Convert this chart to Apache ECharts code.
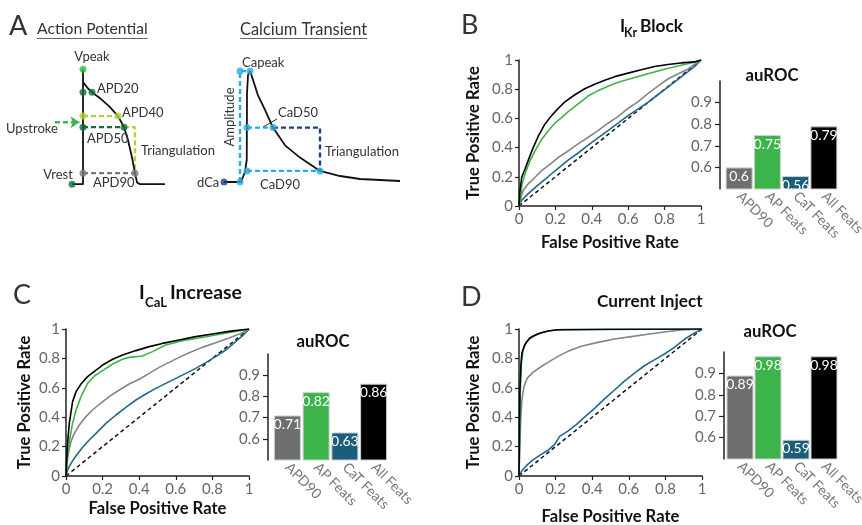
<!DOCTYPE html>
<html><head><meta charset="utf-8">
<script src="https://cdn.jsdelivr.net/npm/echarts@6/dist/echarts.min.js"></script>
<style>html,body{margin:0;padding:0;background:#fff}#c{width:862px;height:525px}</style>
</head><body><div id="c"></div>
<script>
// ---------- data ----------
const barCategories = ['APD90', 'AP Feats', 'CaT Feats', 'All Feats'];
const aurocIKr = [0.6, 0.75, 0.56, 0.79];
const aurocICaL = [0.71, 0.82, 0.63, 0.86];
const aurocInject = [0.89, 0.98, 0.59, 0.98];
const barTicks = [0.6, 0.7, 0.8, 0.9];
const diagonal = [[0, 0], [1, 1]];

// ROC curves [FPR, TPR]
const ikrAll = [[0,0],[0.005,0.1],[0.015,0.197],[0.033,0.253],[0.051,0.314],[0.078,0.40],[0.106,0.478],[0.142,0.56],[0.179,0.619],[0.215,0.668],[0.252,0.713],[0.307,0.762],[0.361,0.803],[0.416,0.834],[0.471,0.861],[0.526,0.886],[0.599,0.91],[0.672,0.933],[0.745,0.955],[0.818,0.969],[0.891,0.98],[0.964,0.987],[1,1]];
const ikrAp = [[0,0],[0.01,0.06],[0.015,0.141],[0.033,0.22],[0.06,0.309],[0.088,0.377],[0.124,0.455],[0.161,0.516],[0.197,0.567],[0.234,0.605],[0.27,0.646],[0.325,0.70],[0.38,0.753],[0.434,0.79],[0.489,0.82],[0.544,0.848],[0.617,0.874],[0.708,0.906],[0.80,0.937],[0.891,0.964],[0.964,0.984],[1,1]];
const ikrApd = [[0,0],[0.011,0.063],[0.024,0.108],[0.051,0.152],[0.088,0.197],[0.124,0.242],[0.161,0.276],[0.215,0.332],[0.27,0.377],[0.325,0.426],[0.38,0.471],[0.434,0.516],[0.489,0.567],[0.544,0.612],[0.599,0.668],[0.653,0.713],[0.708,0.769],[0.763,0.821],[0.818,0.87],[0.872,0.904],[0.927,0.937],[1,1]];
const ikrCat = [[0,0],[0.015,0.04],[0.051,0.085],[0.088,0.126],[0.124,0.164],[0.161,0.202],[0.215,0.258],[0.27,0.314],[0.325,0.363],[0.38,0.417],[0.434,0.466],[0.489,0.516],[0.544,0.567],[0.599,0.619],[0.653,0.664],[0.708,0.709],[0.763,0.762],[0.818,0.814],[0.872,0.865],[0.927,0.919],[0.972,0.964],[1,1]];

const calAll = [[0,0],[0.007,0.2],[0.018,0.358],[0.036,0.506],[0.055,0.574],[0.082,0.626],[0.118,0.676],[0.164,0.721],[0.2,0.755],[0.255,0.794],[0.309,0.823],[0.382,0.853],[0.455,0.88],[0.527,0.902],[0.618,0.925],[0.709,0.948],[0.80,0.966],[0.891,0.984],[1,1]];
const calAp = [[0,0],[0.007,0.13],[0.018,0.234],[0.036,0.358],[0.055,0.449],[0.082,0.54],[0.118,0.63],[0.155,0.68],[0.2,0.717],[0.255,0.762],[0.309,0.794],[0.345,0.807],[0.418,0.816],[0.473,0.846],[0.545,0.891],[0.636,0.921],[0.727,0.939],[0.818,0.959],[0.909,0.98],[1,1]];
const calApd = [[0,0],[0.005,0.086],[0.015,0.166],[0.027,0.234],[0.045,0.29],[0.073,0.347],[0.109,0.404],[0.145,0.449],[0.182,0.488],[0.236,0.54],[0.291,0.585],[0.345,0.626],[0.40,0.658],[0.455,0.698],[0.509,0.739],[0.564,0.773],[0.618,0.807],[0.673,0.839],[0.745,0.875],[0.818,0.907],[0.891,0.939],[0.964,0.975],[1,1]];
const calCat = [[0,0],[0.009,0.041],[0.027,0.086],[0.055,0.138],[0.091,0.195],[0.127,0.245],[0.164,0.29],[0.218,0.358],[0.273,0.415],[0.327,0.467],[0.382,0.517],[0.436,0.558],[0.491,0.596],[0.545,0.63],[0.60,0.664],[0.655,0.698],[0.709,0.732],[0.764,0.771],[0.818,0.812],[0.873,0.857],[0.927,0.914],[0.973,0.964],[1,1]];

const injAll = [[0,0],[0.002,0.245],[0.005,0.586],[0.011,0.768],[0.016,0.836],[0.031,0.893],[0.058,0.939],[0.104,0.968],[0.158,0.986],[0.213,0.995],[0.5,0.998],[1,1]];
const injAp = [[0,0],[0.004,0.28],[0.007,0.58],[0.013,0.76],[0.022,0.855],[0.04,0.91],[0.076,0.95],[0.122,0.974],[0.176,0.99],[0.23,0.996],[1,1]];
const injApd = [[0,0],[0.004,0.177],[0.009,0.382],[0.016,0.518],[0.027,0.609],[0.045,0.666],[0.076,0.705],[0.122,0.745],[0.158,0.773],[0.213,0.814],[0.267,0.848],[0.34,0.882],[0.431,0.909],[0.522,0.932],[0.613,0.948],[0.704,0.964],[0.795,0.98],[0.885,0.993],[1,1]];
const injCat = [[0,0],[0.013,0.03],[0.04,0.07],[0.076,0.11],[0.113,0.14],[0.158,0.175],[0.195,0.215],[0.222,0.27],[0.267,0.305],[0.313,0.35],[0.358,0.40],[0.413,0.46],[0.467,0.525],[0.522,0.585],[0.576,0.645],[0.631,0.70],[0.685,0.75],[0.74,0.79],[0.795,0.83],[0.849,0.875],[0.904,0.93],[0.958,0.972],[1,1]];

// Schematic action potential (time ms, voltage mV)
const apTime = [-44, 0, 0, 0, 4, 20, 36, 68, 108, 140, 164, 180, 196, 208, 216, 228, 328];
const apVolt = [-85, -85, 40, 26, 25, 19, 15, 8.5, -1.3, -11, -23, -37, -56, -73, -83, -85, -85];
const vPeak = 40, vRest = -85, restT = -44;
const apd20 = [36, 15], apd40 = [140, -11], apd50 = [164, -23], apd90 = [208, -73];
const upstrokeArrow = [[-112, -17.6], [-14, -17.6]];

// Schematic calcium transient (time ms, normalised Ca)
const caTime = [-68, 0, 16, 23, 24, 28, 36, 48, 68, 96, 128, 176, 236, 316, 396, 476, 636];
const caConc = [0, 0, 0.09, 0.2, 0.8, 0.96, 1.0, 0.92, 0.78, 0.65, 0.49, 0.33, 0.22, 0.10, 0.054, 0.027, 0.009];
const caPeakT = 36, ampT = -4, dCaT = -68;
const cad50 = [24, 128, 0.49], cad90 = [24, 316, 0.10];

// ---------- styles ----------
const ff = 'Lato, "Open Sans", sans-serif';
const cBlack = '#000', cGreen = '#3cb44b', cGray = '#858585', cTeal = '#1f6a8a';
const barColors = ['#6d6e70', '#3cb44b', '#1c5d79', '#000000'];
const darkGreen = '#176b37', brightGreen = '#3db54a', yellowGreen = '#b2d235', dashGray = '#7a7a7a', cyan = '#29abe2', navy = '#1d3f7d';

const zip = (a, b) => a.map((v, i) => [v, b[i]]);

const canvas = document.createElement('canvas');
const mctx = canvas.getContext('2d');
function measure(t, font) { mctx.font = font; return mctx.measureText(t).width; }
// font size that makes a text span a given width
function fit(t, weight, w) { return Math.round(20 * w / measure(t, weight + ' 20px ' + ff) * 10) / 10; }

function T(text, x, y, size, opts) {
  opts = opts || {};
  const align = opts.align || 'left';
  const font = (opts.weight || 'normal') + ' ' + size + 'px ' + ff;
  return { type: 'text', x, y, rotation: opts.rotation || 0, silent: true, z: 100,
    style: { text, font, fill: opts.fill || '#333', align, verticalAlign: 'middle', textAlign: align, textVerticalAlign: 'middle' } };
}
function L(x1, y1, x2, y2, color, w) {
  return { type: 'line', silent: true, z: 100, shape: { x1, y1, x2, y2 }, style: { stroke: color || '#555', lineWidth: w || 1 } };
}
// title "I" + subscript + rest
function subTitle(x, y, main, sub, subX, subW, subDy, rest, restX, restW) {
  const size = fit(rest, 'bold', restW);
  const subSize = fit(sub, 'bold', subW);
  return [T(main, x, y, size, { weight: 'bold', fill: '#111' }),
          T(sub, subX, y + subDy, subSize, { weight: 'bold', fill: '#111' }),
          T(rest, restX, y, size, { weight: 'bold', fill: '#111' })];
}

const nameSize = fit('False Positive Rate', 'bold', 138);
const tickSize = 15;

// ---------- grids ----------
const grids = [
  { left: 40, top: 60, width: 130, height: 128.8 },      // 0 AP
  { left: 200, top: 59.9, width: 210, height: 133.2 },   // 1 Ca
  { left: 519, top: 60, width: 182, height: 146 },       // 2 B roc
  { left: 725, top: 81, width: 113, height: 108 },       // 3 B bar
  { left: 66, top: 329, width: 183, height: 147 },       // 4 C roc
  { left: 273, top: 354, width: 115, height: 106 },      // 5 C bar
  { left: 519, top: 329, width: 183, height: 147 },      // 6 D roc
  { left: 726, top: 352, width: 112, height: 107 }       // 7 D bar
].map(g => Object.assign({ outerBoundsMode: 'none', containLabel: false }, g));

const axisLineStyle = { color: '#222', width: 1.5 };
const nameStyle = { fontFamily: ff, fontWeight: 'bold', fontSize: nameSize, color: '#111' };
function rocX(gi, gap) {
  return { type: 'value', gridIndex: gi, min: 0, max: 1, interval: 0.2,
    axisLine: { show: true, onZero: false, lineStyle: axisLineStyle },
    axisTick: { show: true, length: 4, lineStyle: { color: '#222', width: 1.2 } },
    axisLabel: { color: '#666', fontSize: tickSize, margin: 6, fontFamily: ff },
    splitLine: { show: false },
    name: 'False Positive Rate', nameLocation: 'middle', nameGap: gap, nameTextStyle: nameStyle };
}
function rocY(gi, gap) {
  return { type: 'value', gridIndex: gi, min: 0, max: 1, interval: 0.2,
    axisLine: { show: true, onZero: false, lineStyle: axisLineStyle },
    axisTick: { show: true, length: 4, lineStyle: { color: '#222', width: 1.2 } },
    axisLabel: { color: '#666', fontSize: tickSize, margin: 6, fontFamily: ff },
    splitLine: { show: false },
    name: 'True Positive Rate', nameLocation: 'middle', nameGap: gap, nameTextStyle: nameStyle };
}
function barX(gi) {
  return { type: 'category', gridIndex: gi, data: barCategories,
    axisLine: { show: false }, axisTick: { show: false },
    axisLabel: { rotate: -45, color: '#777', fontSize: 14, margin: 5, fontFamily: ff, interval: 0 } };
}
function barY(gi, off) {
  return { type: 'value', gridIndex: gi, min: 0.5, max: 1.0, interval: 0.1, offset: off,
    axisLine: { show: true, lineStyle: axisLineStyle },
    axisTick: { show: true, length: 5, customValues: barTicks, lineStyle: { color: '#222', width: 1.2 } },
    axisLabel: { color: '#666', fontSize: tickSize, margin: 8, fontFamily: ff, customValues: barTicks,
      formatter: v => (barTicks.some(t => Math.abs(t - v) < 1e-6) ? String(+v.toFixed(1)) : '') },
    splitLine: { show: false } };
}
const hidden = (gi, min, max) => ({ type: 'value', gridIndex: gi, min, max, show: false, splitLine: { show: false } });

const xAxes = [hidden(0, -172, 348), hidden(1, -164, 676), rocX(2, 28), barX(3), rocX(4, 24), barX(5), rocX(6, 32), barX(7)];
const yAxes = [hidden(0, -90, 50), hidden(1, -0.1, 1.1), rocY(2, 37), barY(3, 5), rocY(4, 33), barY(5, 5), rocY(6, 37), barY(7, 2)];

// ---------- series ----------
const series = [];
function rocSeries(gi, curves) {
  series.push({ type: 'line', xAxisIndex: gi, yAxisIndex: gi, data: diagonal, symbol: 'none', silent: true,
    lineStyle: { color: '#111', width: 1.5, type: [4, 3] } });
  curves.forEach(([d, c]) => series.push({ type: 'line', xAxisIndex: gi, yAxisIndex: gi, data: d, symbol: 'none',
    silent: true, lineStyle: { color: c, width: 1.6 } }));
}
function barSeries(gi, vals) {
  series.push({ type: 'bar', xAxisIndex: gi, yAxisIndex: gi, barWidth: 27, silent: true,
    data: vals.map((v, i) => ({ value: v, itemStyle: { color: barColors[i], borderColor: '#cfcfcf', borderWidth: 1 } })),
    label: { show: true, position: 'insideTop', distance: 2, color: '#fff', fontSize: 14, fontFamily: ff,
      formatter: p => String(p.value) } });
}
rocSeries(2, [[ikrCat, cTeal], [ikrApd, cGray], [ikrAp, cGreen], [ikrAll, cBlack]]);
barSeries(3, aurocIKr);
rocSeries(4, [[calCat, cTeal], [calApd, cGray], [calAp, cGreen], [calAll, cBlack]]);
barSeries(5, aurocICaL);
rocSeries(6, [[injCat, cTeal], [injApd, cGray], [injAp, cGreen], [injAll, cBlack]]);
barSeries(7, aurocInject);

// schematic helpers
function dashed(gi, data, color) {
  series.push({ type: 'line', xAxisIndex: gi, yAxisIndex: gi, data, symbol: 'none', clip: false, silent: true,
    lineStyle: { color, width: 2.4, type: [5, 3] } });
}
function dots(gi, pts, color) {
  series.push({ type: 'scatter', xAxisIndex: gi, yAxisIndex: gi, data: pts, symbolSize: 7, clip: false, silent: true, z: 5,
    itemStyle: { color } });
}
// Action potential
dashed(0, [[0, apd40[1]], apd40], yellowGreen);
dashed(0, [[0, apd50[1]], apd50], darkGreen);
dashed(0, [apd50, [apd90[0], apd50[1]], apd90], yellowGreen);
dashed(0, [[0, apd90[1]], apd90], dashGray);
series.push({ type: 'line', xAxisIndex: 0, yAxisIndex: 0, clip: false, silent: true,
  data: [{ value: upstrokeArrow[0], symbol: 'none' }, { value: upstrokeArrow[1], symbol: 'arrow', symbolSize: 9, symbolRotate: -90 }],
  lineStyle: { color: brightGreen, width: 2.4, type: [5, 3] }, itemStyle: { color: brightGreen } });
series.push({ type: 'line', xAxisIndex: 0, yAxisIndex: 0, data: zip(apTime, apVolt), symbol: 'none', clip: false, silent: true,
  lineStyle: { color: '#111', width: 1.8 }, z: 3 });
dots(0, [[0, vPeak]], brightGreen);
dots(0, [[0, apd20[1]], apd20, [0, apd50[1]], apd50, [restT, vRest]], darkGreen);
dots(0, [[0, apd40[1]], apd40], yellowGreen);
dots(0, [[0, apd90[1]], apd90], dashGray);
// Calcium transient
dashed(1, [[ampT, 0], [ampT, 1], [caPeakT, 1]], cyan);
dashed(1, [[cad50[0], cad50[2]], [cad50[1], cad50[2]]], cyan);
dashed(1, [[cad50[1], cad50[2]], [cad90[1], cad50[2]], [cad90[1], cad90[2]]], navy);
dashed(1, [[cad90[0], cad90[2]], [cad90[1], cad90[2]]], cyan);
series.push({ type: 'line', xAxisIndex: 1, yAxisIndex: 1, data: zip(caTime, caConc), symbol: 'none', clip: false, silent: true,
  lineStyle: { color: '#111', width: 1.8 }, z: 3 });
dots(1, [[ampT, 1], [caPeakT, 1], [cad50[0], cad50[2]], [cad50[1], cad50[2]], [cad90[0], cad90[2]], [cad90[1], cad90[2]], [ampT, 0]], cyan);
dots(1, [[dCaT, 0]], navy);

// ---------- text ----------
const apTitleSize = fit('Action Potential', 'normal', 111);
const caTitleSize = fit('Calcium Transient', 'normal', 127);
const aurocSize = fit('auROC', 'bold', 53);
const injectSize = fit('Current Inject', 'bold', 106);
const gfx = [
  T('A', 9, 26, 27), T('B', 461, 25, 27), T('C', 13, 295, 27), T('D', 461, 297, 27),
  T('Action Potential', 37, 29, apTitleSize), T('Calcium Transient', 240, 30, caTitleSize),
  T('Vpeak', 92, 57, 13, { align: 'center' }),
  T('APD20', 97, 89, 13), T('APD40', 122, 113, 13), T('Upstroke', 6, 129, 13),
  T('APD50', 87, 139, 13), T('Triangulation', 141, 151, 13),
  T('Vrest', 58, 175, 13, { align: 'center' }), T('APD90', 93, 183, 13),
  T('dCa', 197, 183, 13), T('Capeak', 242, 63, 13), T('Amplitude', 230, 117, 13, { align: 'center', rotation: Math.PI / 2 }),
  T('CaD50', 278, 113, 13), T('Triangulation', 325, 152, 13), T('CaD90', 260, 185, 13),
  L(263, 127, 277, 119, '#333', 1),
  T('auROC', 772, 76, aurocSize, { align: 'center', weight: 'bold', fill: '#111' }),
  T('auROC', 323, 342, aurocSize, { align: 'center', weight: 'bold', fill: '#111' }),
  T('auROC', 770, 332, aurocSize, { align: 'center', weight: 'bold', fill: '#111' }),
  T('Current Inject', 597, 301, injectSize, { weight: 'bold', fill: '#111' })
].concat(subTitle(620, 26, 'I', 'Kr', 624, 13, 7.5, 'Block', 640, 43),
         subTitle(139, 292.5, 'I', 'CaL', 145, 22, 10, 'Increase', 170, 72));
const wAP = measure('Action Potential', apTitleSize + 'px ' + ff), wCa = measure('Calcium Transient', caTitleSize + 'px ' + ff);
gfx.push(L(37, 38.5, 37 + wAP, 38.5, '#666', 1), L(240, 38.5, 240 + wCa, 38.5, '#666', 1));

const chart = echarts.init(document.getElementById('c'), null, { renderer: 'canvas' });
chart.setOption({
  animation: false,
  backgroundColor: '#fff',
  textStyle: { fontFamily: ff },
  grid: grids, xAxis: xAxes, yAxis: yAxes, series,
  graphic: { elements: gfx }
});
</script></body></html>
